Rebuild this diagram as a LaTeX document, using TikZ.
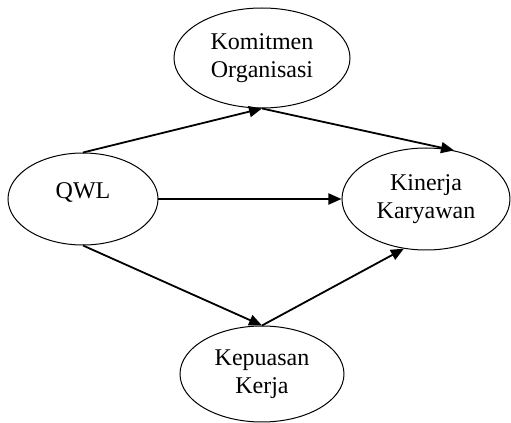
\documentclass[tikz,border=0pt]{standalone}
\usepackage{fontspec}
\setmainfont{Liberation Serif}
\usetikzlibrary{shapes.geometric,arrows.meta}
\tikzset{
  var/.style={ellipse,draw,line width=0.5pt,inner sep=0pt,align=center,
    font=\fontsize{12}{14}\selectfont},
  path/.style={line width=0.9pt,-{Triangle[length=6.5pt,width=5.5pt]}}
}
\begin{document}
\begin{tikzpicture}[x=0.5pt,y=-0.5pt]
            \useasboundingbox (0,0) rectangle (511,423);
            \node[var,minimum width=88pt,minimum height=50pt] (komitmen) at (262,58) {Komitmen\\Organisasi};
            \node[var,minimum width=75pt,minimum height=46pt] (qwl) at (83,199) {\raisebox{0pt}[0pt][0pt]{QWL}};
            \node[var,minimum width=84pt,minimum height=51pt] (kinerja) at (426,199) {Kinerja\\Karyawan};
            \node[var,minimum width=82pt,minimum height=48pt] (kepuasan) at (262,374) {Kepuasan\\Kerja};
            % jalur
            \draw[path] (qwl.north) -- (komitmen.south);
            \draw[path] (komitmen.south) -- (kinerja.60);
            \draw[path] (qwl.east) -- (kinerja.west);
            \draw[path] (qwl.south) -- (kepuasan.north);
            \draw[path] (kepuasan.north) -- (kinerja.246);
        \end{tikzpicture}
\end{document}
